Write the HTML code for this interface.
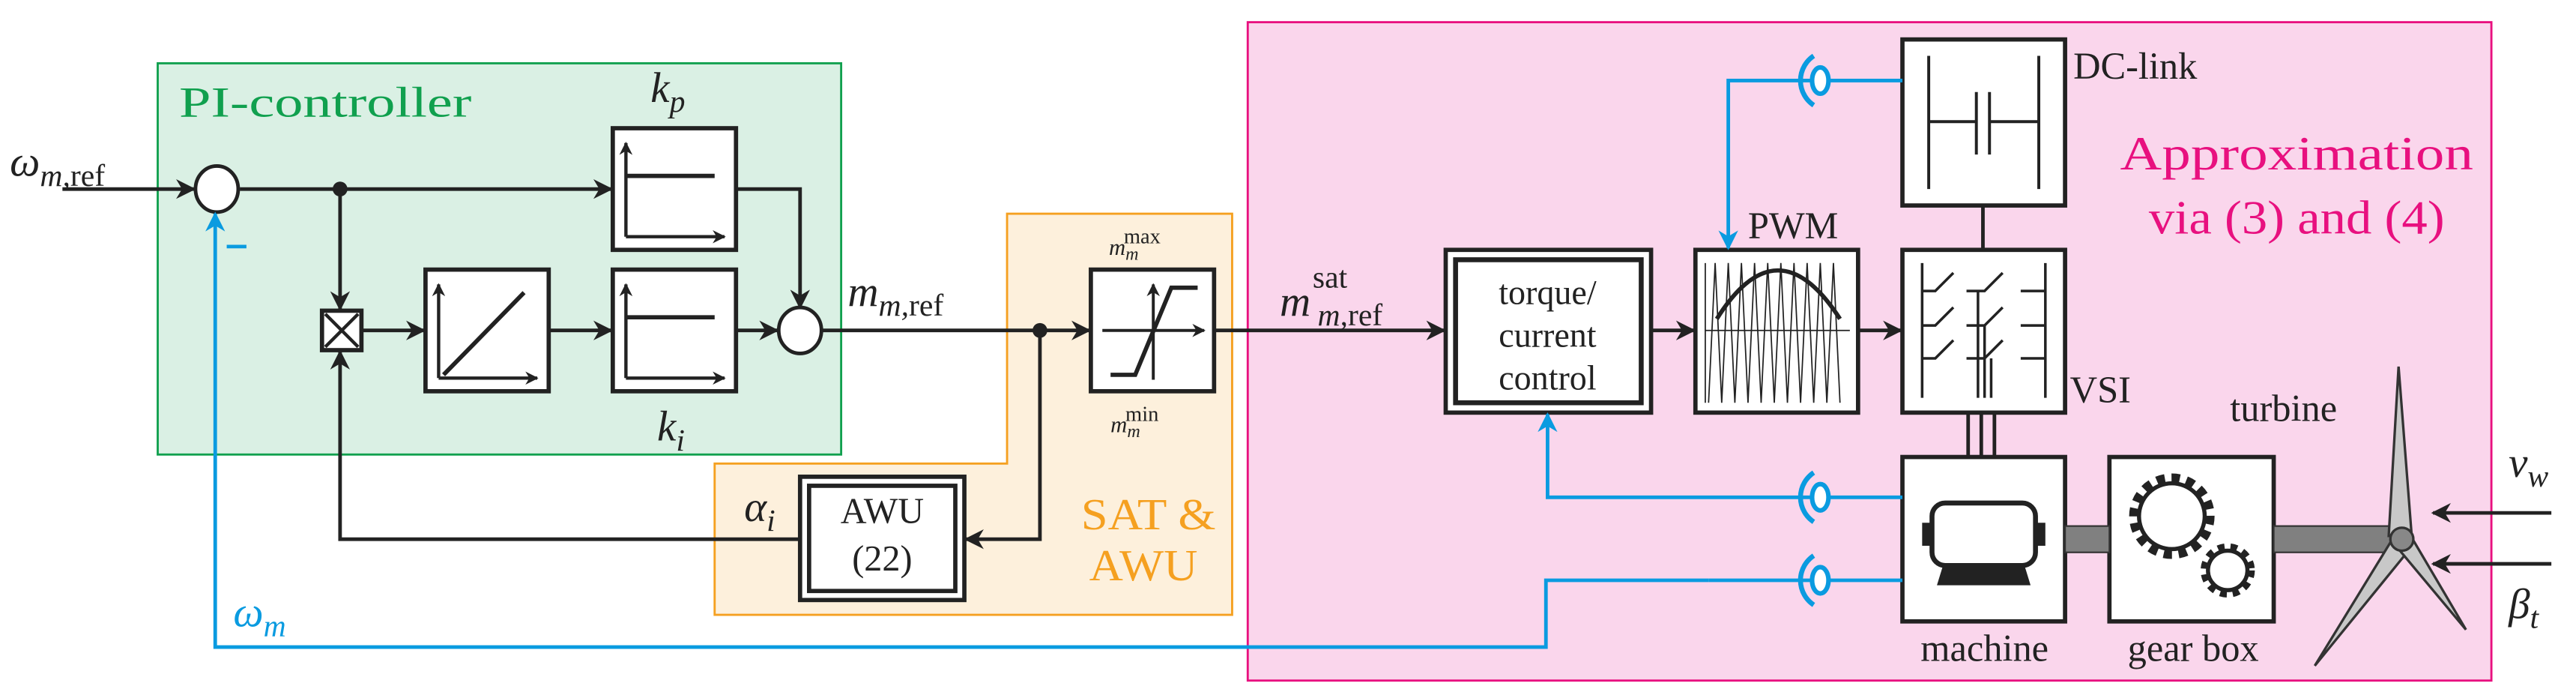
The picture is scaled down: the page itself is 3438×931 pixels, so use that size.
<!DOCTYPE html>
<html><head><meta charset="utf-8"><style>html,body{margin:0;padding:0;background:#fff}svg{display:block}text,tspan{font-family:"Liberation Serif","DejaVu Serif",serif}</style></head><body>
<svg width="3438" height="931" viewBox="0 0 1568 424.6" preserveAspectRatio="none" xmlns="http://www.w3.org/2000/svg" font-family="Liberation Serif, serif">
<defs>
<marker id="ab" viewBox="0 0 10 10" refX="9" refY="5" markerWidth="12" markerHeight="12" orient="auto" markerUnits="userSpaceOnUse"><path d="M0,0 L10,5 L0,10 L3,5 z" fill="#222"/></marker>
<marker id="bb" viewBox="0 0 10 10" refX="9" refY="5" markerWidth="12" markerHeight="12" orient="auto" markerUnits="userSpaceOnUse"><path d="M0,0 L10,5 L0,10 L3,5 z" fill="#0a9be0"/></marker>
<marker id="sa" viewBox="0 0 10 10" refX="9" refY="5" markerWidth="8" markerHeight="8" orient="auto" markerUnits="userSpaceOnUse"><path d="M0,0 L10,5 L0,10 L3,5 z" fill="#222"/></marker>
</defs>
<rect x="96" y="38.5" width="416" height="238" fill="#daf0e4" stroke="#10a04e" stroke-width="1.3"/>
<path d="M613,130 H750 V374 H435 V282 H613 Z" fill="#fdf0dc" stroke="#f5a020" stroke-width="1.3"/>
<rect x="759.5" y="13.5" width="757" height="400.5" fill="#fad6ec" stroke="#e8107f" stroke-width="1.3"/>
<text x="109" y="71" font-size="26" fill="#10a04e" textLength="178" lengthAdjust="spacingAndGlyphs">PI-controller</text>
<text x="658" y="322" font-size="27" fill="#f5a020" textLength="82" lengthAdjust="spacingAndGlyphs">SAT &amp;</text>
<text x="663" y="353" font-size="27" fill="#f5a020" textLength="66" lengthAdjust="spacingAndGlyphs">AWU</text>
<text x="1398" y="103" font-size="29" fill="#e8107f" text-anchor="middle" textLength="215" lengthAdjust="spacingAndGlyphs">Approximation</text>
<text x="1398" y="142" font-size="29" fill="#e8107f" text-anchor="middle" textLength="180" lengthAdjust="spacingAndGlyphs">via (3) and (4)</text>

<g stroke="#222" stroke-width="2.2" fill="none">
<line x1="38" y1="115" x2="118" y2="115" marker-end="url(#ab)"/>
<line x1="146" y1="115" x2="372" y2="115" marker-end="url(#ab)"/>
<line x1="207" y1="115" x2="207" y2="188" marker-end="url(#ab)"/>
<line x1="220" y1="201" x2="258" y2="201" marker-end="url(#ab)"/>
<line x1="334" y1="201" x2="372" y2="201" marker-end="url(#ab)"/>
<line x1="448" y1="201" x2="473" y2="201" marker-end="url(#ab)"/>
<polyline points="448,115 487,115 487,187" marker-end="url(#ab)"/>
<line x1="501" y1="201" x2="663" y2="201" marker-end="url(#ab)"/>
<line x1="739" y1="201" x2="879" y2="201" marker-end="url(#ab)"/>
<line x1="1005" y1="201" x2="1031" y2="201" marker-end="url(#ab)"/>
<line x1="1131" y1="201" x2="1157" y2="201" marker-end="url(#ab)"/>
<polyline points="633,201 633,328 588,328" marker-end="url(#ab)"/>
<polyline points="487,328 207,328 207,214" marker-end="url(#ab)"/>
<line x1="1207" y1="125" x2="1207" y2="152"/>
<line x1="1198" y1="251" x2="1198" y2="278"/><line x1="1206" y1="251" x2="1206" y2="278"/><line x1="1214" y1="251" x2="1214" y2="278"/>
<line x1="1553" y1="312" x2="1481" y2="312" marker-end="url(#ab)"/>
<line x1="1553" y1="343" x2="1481" y2="343" marker-end="url(#ab)"/>
</g>
<circle cx="207" cy="115" r="4.5" fill="#222"/>
<circle cx="633" cy="201" r="4.5" fill="#222"/>
<ellipse cx="132" cy="115" rx="13" ry="14" fill="#fff" stroke="#222" stroke-width="2.2"/>
<ellipse cx="487" cy="201" rx="13" ry="14" fill="#fff" stroke="#222" stroke-width="2.2"/>

<g stroke="#222" stroke-width="2.6" fill="#fff">
<rect x="373" y="78" width="75" height="74"/>
<rect x="373" y="164" width="75" height="74"/>
<rect x="259" y="164" width="75" height="74"/>
<rect x="196" y="189" width="24" height="24"/>
<rect x="664" y="164" width="75" height="74"/>
<rect x="487" y="290" width="100" height="75"/>
<rect x="880" y="152" width="125" height="99"/>
<rect x="1032" y="152" width="99" height="99"/>
<rect x="1158" y="152" width="99" height="99"/>
<rect x="1158" y="24" width="99" height="101"/>
<rect x="1158" y="278" width="99" height="100"/>
<rect x="1284" y="278" width="100" height="100"/>
</g>
<g stroke="#222" fill="none">
<rect x="492.5" y="295.5" width="89" height="64" stroke-width="2.6"/>
<rect x="886" y="158" width="113" height="87" stroke-width="3"/>
<path d="M198,191 L218,211 M218,191 L198,211" stroke-width="2"/>
<g stroke-width="2"><line x1="381" y1="144" x2="381" y2="87" marker-end="url(#sa)"/><line x1="381" y1="144" x2="441" y2="144" marker-end="url(#sa)"/></g>
<line x1="381" y1="107" x2="435" y2="107" stroke-width="2.6"/>
<g stroke-width="2"><line x1="381" y1="230" x2="381" y2="173" marker-end="url(#sa)"/><line x1="381" y1="230" x2="441" y2="230" marker-end="url(#sa)"/></g>
<line x1="381" y1="193" x2="435" y2="193" stroke-width="2.6"/>
<g stroke-width="2"><line x1="267" y1="230" x2="267" y2="173" marker-end="url(#sa)"/><line x1="267" y1="230" x2="327" y2="230" marker-end="url(#sa)"/></g>
<line x1="270" y1="228" x2="319" y2="178" stroke-width="2.6"/>
<g stroke-width="1.8"><line x1="702" y1="231" x2="702" y2="173" marker-end="url(#sa)"/><line x1="671" y1="201" x2="733" y2="201" marker-end="url(#sa)"/></g>
<polyline points="676,228 691,228 713,175 729,175" stroke-width="2.6"/>
<g stroke-width="1.8"><line x1="1174" y1="34" x2="1174" y2="115"/><line x1="1241" y1="34" x2="1241" y2="115"/><line x1="1174" y1="74" x2="1203" y2="74"/><line x1="1211" y1="74" x2="1241" y2="74"/><line x1="1203" y1="56" x2="1203" y2="94"/><line x1="1211" y1="56" x2="1211" y2="94"/></g>
<g stroke-width="1.6">
<line x1="1170" y1="160" x2="1170" y2="242"/><line x1="1245" y1="160" x2="1245" y2="242"/>
<path d="M1170,177 H1178 L1189,166 M1170,198 H1178 L1189,187 M1170,218 H1178 L1189,207"/>
<path d="M1197,177 H1208 L1219,166 M1197,198 H1208 L1219,187 M1197,218 H1208 L1219,207"/>
<path d="M1230,177 H1245 M1230,198 H1245 M1230,218 H1245"/>
<line x1="1204" y1="177" x2="1204" y2="242"/><line x1="1208" y1="198" x2="1208" y2="242"/><line x1="1212" y1="218" x2="1212" y2="242"/>
</g>
<g stroke-width="0.8">
<line x1="1038" y1="245" x2="1038" y2="160"/><line x1="1038" y1="201" x2="1126" y2="201"/>
<polyline points="1040,245 1044,160 1048,245 1052,160 1056,245 1060,160 1064,245 1068,160 1072,245 1076,160 1080,245 1084,160 1088,245 1092,160 1096,245 1100,160 1104,245 1108,160 1112,245 1116,160 1120,245"/>
</g>
<path d="M1045,194 Q1082,135 1120,194" stroke-width="2.6"/>
</g>
<g fill="#222">
<rect x="1176" y="306" width="63" height="38" rx="8" fill="#fff" stroke="#222" stroke-width="3"/>
<rect x="1170" y="318" width="7" height="14"/><rect x="1238" y="318" width="7" height="14"/>
<path d="M1183,343 H1232 L1236,356 H1179 Z"/>
</g>
<rect x="1257" y="320" width="27" height="16" fill="#808080" stroke="#333" stroke-width="1"/>
<rect x="1384" y="320" width="76" height="16" fill="#808080" stroke="#333" stroke-width="1"/>
<g fill="#fff" stroke="#222">
<circle cx="1322" cy="314" r="23" stroke-width="6" stroke-dasharray="5 4"/>
<circle cx="1322" cy="314" r="20" stroke-width="2.5"/>
<circle cx="1356" cy="347" r="14" stroke-width="5" stroke-dasharray="4 3.5"/>
<circle cx="1356" cy="347" r="12" stroke-width="2.5"/>
</g>
<g fill="#c8c8c8" stroke="#333" stroke-width="1.5">
<path d="M1454,326 L1460,223 L1468,326 Z"/>
<path d="M1455,330 L1409,405 L1466,335 Z"/>
<path d="M1460,334 L1501,383 L1468,327 Z"/>
<circle cx="1462" cy="328" r="7" fill="#888"/>
</g>
<g stroke="#0a9be0" stroke-width="2.2" fill="none">
<polyline points="1040,353 941,353 941,393.6 131,393.6 131,130" marker-end="url(#bb)"/>
<line x1="1040" y1="353" x2="1103" y2="353"/>
<line x1="1111" y1="353" x2="1158" y2="353"/>
<polyline points="1103,302.5 942,302.5 942,252" marker-end="url(#bb)"/>
<line x1="1111" y1="302.5" x2="1158" y2="302.5"/>
<polyline points="1103,49 1052,49 1052,151" marker-end="url(#bb)"/>
<line x1="1111" y1="49" x2="1158" y2="49"/>
<line x1="138" y1="150" x2="150" y2="150"/>
</g>
<g fill="#fff" stroke="#0a9be0" stroke-width="2.8">
<ellipse cx="1108" cy="49" rx="5" ry="8"/><ellipse cx="1108" cy="302.5" rx="5" ry="8"/><ellipse cx="1108" cy="353" rx="5" ry="8"/>
</g>
<g fill="none" stroke="#0a9be0" stroke-width="3">
<path d="M1104,34 A18,18 0 0 0 1104,64"/><path d="M1104,287.5 A18,18 0 0 0 1104,317.5"/><path d="M1104,338 A18,18 0 0 0 1104,368"/>
</g>

<g fill="#222" font-style="italic" font-family="Liberation Serif, serif">
<text x="6" y="107" font-size="26">ω<tspan font-size="19" dy="6">m,</tspan><tspan font-style="normal" font-size="19">ref</tspan></text>
<text x="396" y="62" font-size="26">k<tspan font-size="19" dy="6">p</tspan></text>
<text x="400" y="268" font-size="26">k<tspan font-size="19" dy="6">i</tspan></text>
<text x="516" y="186" font-size="26">m<tspan font-size="19" dy="6">m,</tspan><tspan font-style="normal" font-size="19">ref</tspan></text>
<text x="675" y="155" font-size="14">m<tspan font-size="11" dy="3">m</tspan><tspan font-style="normal" font-size="13" dy="-10" dx="-9">max</tspan></text>
<text x="676" y="263" font-size="14">m<tspan font-size="11" dy="3">m</tspan><tspan font-style="normal" font-size="13" dy="-10" dx="-9">min</tspan></text>
<text x="453" y="317" font-size="26">α<tspan font-size="19" dy="6">i</tspan></text>
<text x="142" y="381" font-size="26" fill="#0a9be0">ω<tspan font-size="19" dy="6">m</tspan></text>
<text x="779" y="192" font-size="26">m</text>
<text x="799" y="175" font-size="19" font-style="normal">sat</text>
<text x="802" y="198" font-size="19">m,<tspan font-style="normal">ref</tspan></text>
<text x="1527" y="290" font-size="26">v<tspan font-size="19" dy="6">w</tspan></text>
<text x="1527" y="376" font-size="26">β<tspan font-size="19" dy="6">t</tspan></text>
</g>
<g fill="#222" font-size="22" font-family="Liberation Serif, serif">
<text x="537" y="318" text-anchor="middle">AWU</text>
<text x="537" y="347" text-anchor="middle">(22)</text>
<text x="942" y="185" text-anchor="middle" font-size="21">torque/</text>
<text x="942" y="211" text-anchor="middle" font-size="21">current</text>
<text x="942" y="237" text-anchor="middle" font-size="21">control</text>
<text x="1064" y="145" font-size="23">PWM</text>
<text x="1262" y="48" font-size="23">DC-link</text>
<text x="1260" y="245" font-size="23">VSI</text>
<text x="1390" y="256" font-size="23" text-anchor="middle">turbine</text>
<text x="1208" y="402" font-size="23" text-anchor="middle">machine</text>
<text x="1335" y="402" font-size="23" text-anchor="middle">gear box</text>
</g>
</svg>
</body></html>
